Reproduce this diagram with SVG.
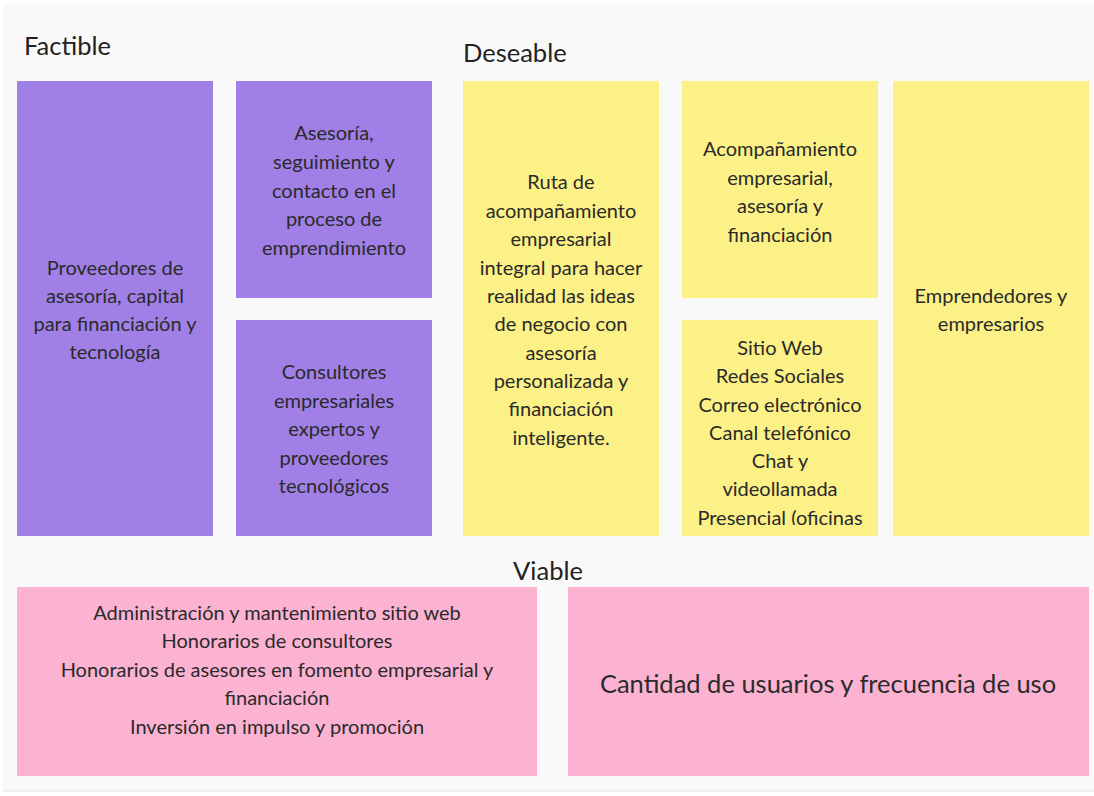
<svg xmlns="http://www.w3.org/2000/svg" width="1094" height="796" viewBox="0 0 1094 796">
<style>
.t{font-family:Lato,"Open Sans","Liberation Sans",sans-serif;font-size:20px;fill:#2a2a2a;text-anchor:middle;dominant-baseline:central}
.h{font-family:Lato,"Open Sans","Liberation Sans",sans-serif;font-size:25.5px;fill:#222;}
.p{fill:#a07fe6}.y{fill:#fcf187}.k{fill:#fcb3d2}
</style>
<defs><clipPath id="c3"><rect x="682" y="320" width="196" height="205"/></clipPath></defs>
<rect width="1094" height="796" fill="#ffffff"/>
<rect x="3" y="3" width="1091" height="789" fill="#f0f0f0"/>
<rect x="3" y="3" width="1091" height="787" fill="#f9f9f9"/>
<text class="h" x="24" y="55">Factible</text>
<text class="h" x="463" y="62">Deseable</text>
<text class="h" x="548" y="580" text-anchor="middle">Viable</text>
<g id="n1"><rect class="p" x="17" y="81" width="196" height="455"/>
<text class="t" x="115" y="267">Proveedores de</text><text class="t" x="115" y="295">asesoría, capital</text><text class="t" x="115" y="323">para financiación y</text><text class="t" x="115" y="351">tecnología</text></g>
<g id="n2"><rect class="p" x="236" y="81" width="196" height="217"/>
<text class="t" x="334" y="132">Asesoría,</text><text class="t" x="334" y="161">seguimiento y</text><text class="t" x="334" y="190">contacto en el</text><text class="t" x="334" y="218">proceso de</text><text class="t" x="334" y="247">emprendimiento</text></g>
<g id="n3"><rect class="p" x="236" y="320" width="196" height="216"/>
<text class="t" x="334" y="371">Consultores</text><text class="t" x="334" y="400">empresariales</text><text class="t" x="334" y="428">expertos y</text><text class="t" x="334" y="457">proveedores</text><text class="t" x="334" y="485">tecnológicos</text></g>
<g id="n4"><rect class="y" x="463" y="81" width="196" height="455"/>
<text class="t" x="561" y="181">Ruta de</text><text class="t" x="561" y="210">acompañamiento</text><text class="t" x="561" y="238">empresarial</text><text class="t" x="561" y="267">integral para hacer</text><text class="t" x="561" y="295">realidad las ideas</text><text class="t" x="561" y="323">de negocio con</text><text class="t" x="561" y="352">asesoría</text><text class="t" x="561" y="380">personalizada y</text><text class="t" x="561" y="408">financiación</text><text class="t" x="561" y="437">inteligente.</text></g>
<g id="n5"><rect class="y" x="682" y="81" width="196" height="217"/>
<text class="t" x="780" y="148">Acompañamiento</text><text class="t" x="780" y="177">empresarial,</text><text class="t" x="780" y="205">asesoría y</text><text class="t" x="780" y="234">financiación</text></g>
<g id="n6"><rect class="y" x="682" y="320" width="196" height="216"/>
<g clip-path="url(#c3)"><text class="t" x="780" y="347">Sitio Web</text><text class="t" x="780" y="375">Redes Sociales</text><text class="t" x="780" y="404">Correo electrónico</text><text class="t" x="780" y="432">Canal telefónico</text><text class="t" x="780" y="460">Chat y</text><text class="t" x="780" y="488">videollamada</text><text class="t" x="780" y="517">Presencial (oficinas</text></g></g>
<g id="n7"><rect class="y" x="893" y="81" width="196" height="455"/>
<text class="t" x="991" y="295">Emprendedores y</text><text class="t" x="991" y="323">empresarios</text></g>
<g id="n8"><rect class="k" x="17" y="587" width="520" height="189"/>
<text class="t" x="277" y="612">Administración y mantenimiento sitio web</text><text class="t" x="277" y="640">Honorarios de consultores</text><text class="t" x="277" y="669">Honorarios de asesores en fomento empresarial y</text><text class="t" x="277" y="697">financiación</text><text class="t" x="277" y="726">Inversión en impulso y promoción</text></g>
<g id="n9"><rect class="k" x="568" y="587" width="521" height="189"/>
<text class="t" x="828" y="683" style="font-size:25.5px">Cantidad de usuarios y frecuencia de uso</text></g>
<g id="connectors"></g>
</svg>
